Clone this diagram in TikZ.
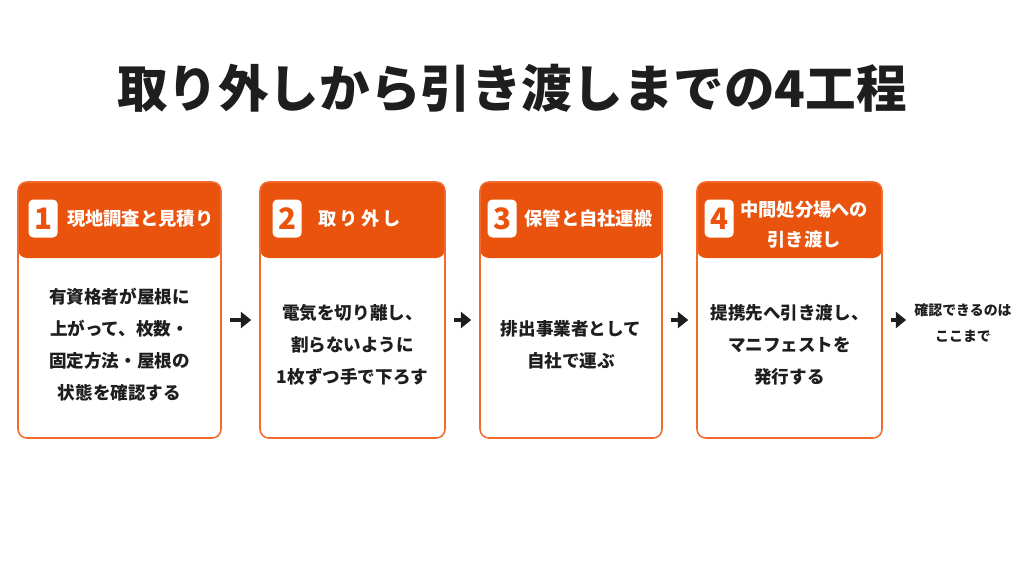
\documentclass[tikz,border=0pt]{standalone}
\usepackage{fontspec}
\setmainfont{Noto Sans CJK JP}
\usetikzlibrary{arrows.meta,positioning}

\definecolor{hdorange}{HTML}{E9530D}
\definecolor{edgeorange}{HTML}{F26A2E}
\definecolor{inkdark}{HTML}{1E1E1E}

\begin{document}
\begin{tikzpicture}[
  x=0.25mm, y=-0.25mm,
  >=Latex,
  card/.style={draw=edgeorange,line width=1.1pt,rounded corners=2.2mm,fill=white,
    minimum height=6.4cm,inner sep=0pt,
    path picture={\fill[hdorange] (path picture bounding box.north west)
      rectangle ([yshift=-19mm]path picture bounding box.north east);}},
  badge/.style={fill=white,rounded corners=1.2mm,minimum width=7.3mm,minimum height=9.5mm,
    inner sep=0pt,text=hdorange,font=\fontsize{21}{21}\selectfont\bfseries},
  hdtext/.style={text=white,inner sep=0pt,align=center,font=\fontsize{13}{21.3}\selectfont\bfseries},
  bodytext/.style={text=inkdark,inner sep=0pt,align=center,font=\fontsize{12.5}{22.7}\selectfont\bfseries},
  endtext/.style={text=inkdark,inner sep=0pt,align=center,font=\fontsize{9.9}{19}\selectfont\bfseries},
  flow/.style={->,>={Triangle[length=2.6mm,width=4mm]},line width=0.9mm,inkdark,
    shorten <=2mm,shorten >=2mm}
]

% -------------------------
% Geometry (pixels of the page)
% -------------------------
\def\yCard{310}
\def\yBody{345}

\useasboundingbox (0,0) rectangle (1024,576);

% -------------------------
% Title
% -------------------------
\node[text=inkdark,font=\fontsize{36}{36}\selectfont\bfseries] (title) at (512,88)
  {取り外しから引き渡しまでの4工程};

% -------------------------
% Cards and number badges
% -------------------------
\foreach \n/\xc/\w/\bx in {1/119.5/5.075/2.75,2/352.5/4.625/3.25,3/571/4.55/2,4/789.5/4.625/2} {
  \node[card,minimum width=\w cm] (c\n) at (\xc,\yCard) {};
  \node[badge,anchor=north west] (b\n) at ([xshift=\bx mm,yshift=-4.5mm]c\n.north west) {\n};
}

% header titles
\node[hdtext,right=2.2mm of b1] (h1) {現地調査と見積り};
\node[hdtext,right=4mm of b2] (h2) {\addfontfeature{LetterSpace=18}取り外し};
\node[hdtext,right=1.8mm of b3] (h3) {保管と自社運搬};
\node[hdtext,right=1.5mm of b4,yshift=-1.6mm] (h4) {中間処分場への\\引き渡し};

% body texts
\node[bodytext] (t1) at (c1 |- 0,\yBody) {有資格者が屋根に\\上がって、枚数・\\固定方法・屋根の\\状態を確認する};
\node[bodytext] (t2) at (c2 |- 0,\yBody) {電気を切り離し、\\割らないように\\1枚ずつ手で下ろす};
\node[bodytext] (t3) at (c3 |- 0,\yBody) {排出事業者として\\自社で運ぶ};
\node[bodytext] (t4) at (c4 |- 0,\yBody) {提携先へ引き渡し、\\マニフェストを\\発行する};

% end note
\node[endtext] (goal) at (963,323) {確認できるのは\\ここまで};

% -------------------------
% Arrows
% -------------------------
\foreach \u/\v in {c1/c2,c2/c3,c3/c4} {
  \draw[flow] ([yshift=-2.5mm]\u.east) -- ([yshift=-2.5mm]\v.west);
}
\draw[flow] ([yshift=-2.5mm]c4.east) -- ([yshift=-2.5mm]c4.east -| goal.west);

\end{tikzpicture}
\end{document}
